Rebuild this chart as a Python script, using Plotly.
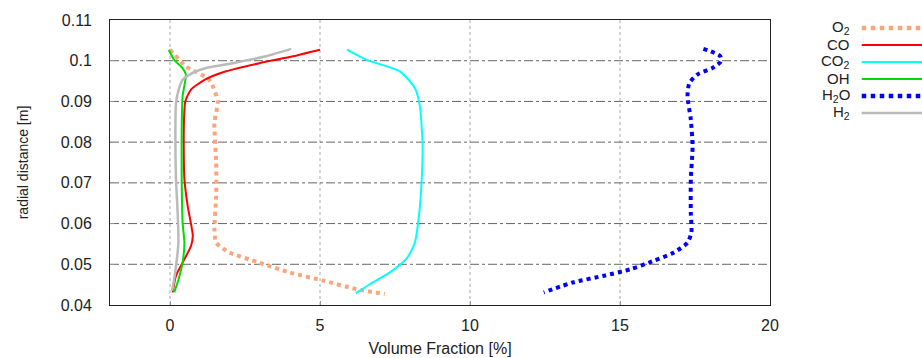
import plotly.graph_objects as go

# ---- data (volume fraction [%], radial distance [m]) ----
o2_x = [0.0, 0.53, 1.31, 1.59, 1.48, 1.54, 1.54, 1.48, 1.54, 1.98, 2.98, 3.99, 5.1, 6.21, 7.16]
o2_y = [0.1027, 0.0986, 0.0953, 0.0900, 0.0847, 0.0750, 0.0668, 0.0586, 0.0553, 0.0529, 0.0504, 0.0480, 0.0460, 0.0439, 0.0427]

co_x = [5.0, 4.1, 2.98, 1.87, 1.15, 0.70, 0.51, 0.46, 0.48, 0.59, 0.76, 0.70, 0.42, 0.20, 0.09]
co_y = [0.1027, 0.1011, 0.0994, 0.0974, 0.0953, 0.0929, 0.0900, 0.0831, 0.0709, 0.0643, 0.0570, 0.0545, 0.0504, 0.0472, 0.0431]

co2_x = [5.9, 6.55, 7.66, 8.16, 8.33, 8.42, 8.39, 8.31, 8.16, 7.88, 7.33, 6.66, 6.19]
co2_y = [0.1027, 0.1002, 0.0974, 0.0933, 0.0888, 0.0790, 0.0709, 0.0627, 0.0553, 0.0513, 0.0480, 0.0451, 0.0429]

oh_x = [-0.04, 0.14, 0.42, 0.53, 0.42, 0.39, 0.39, 0.42, 0.48, 0.42, 0.29, 0.14]
oh_y = [0.1027, 0.1002, 0.0982, 0.0966, 0.0913, 0.0831, 0.0709, 0.0602, 0.0553, 0.0504, 0.0464, 0.0431]

h2o_x = [17.78, 18.03, 18.34, 18.36, 18.08, 17.58, 17.31, 17.25, 17.36, 17.42, 17.36, 17.36, 17.38, 17.25, 16.8, 16.14, 15.36, 14.47, 13.46, 12.46]
h2o_y = [0.1029, 0.1023, 0.1011, 0.0998, 0.0982, 0.0966, 0.0945, 0.0913, 0.0856, 0.0790, 0.0709, 0.0627, 0.0578, 0.0553, 0.0529, 0.0509, 0.0488, 0.0472, 0.0456, 0.0431]

h2_x = [4.04, 3.2, 2.09, 1.2, 0.65, 0.42, 0.29, 0.20, 0.18, 0.20, 0.26, 0.28, 0.23, 0.14, 0.07]
h2_y = [0.1029, 0.1011, 0.0994, 0.0982, 0.0966, 0.0953, 0.0929, 0.0896, 0.0831, 0.0709, 0.0619, 0.0553, 0.0513, 0.0464, 0.0435]

x_ticks = [0, 5, 10, 15, 20]
y_ticks = [0.04, 0.05, 0.06, 0.07, 0.08, 0.09, 0.1, 0.11]
y_ticktext = ["0.04", "0.05", "0.06", "0.07", "0.08", "0.09", "0.1", "0.11"]

series = [
    ("O<sub>2</sub>", o2_x, o2_y, "#fca47c", 4, "dot"),
    ("CO", co_x, co_y, "#ff0000", 2, "solid"),
    ("CO<sub>2</sub>", co2_x, co2_y, "#00ffff", 2, "solid"),
    ("OH", oh_x, oh_y, "#00dd00", 2, "solid"),
    ("H<sub>2</sub>O", h2o_x, h2o_y, "#0000ff", 4, "dot"),
    ("H<sub>2</sub>", h2_x, h2_y, "#bbbbbb", 2.5, "solid"),
]

fig = go.Figure()
for name, xs, ys, col, w, dash in series:
    fig.add_trace(go.Scatter(x=xs, y=ys, mode="lines", name=name,
                             line=dict(color=col, width=w, dash=dash, shape="spline", smoothing=0.6),
                             showlegend=False))

# vertical dotted grid lines
for xv in x_ticks[:-1]:
    fig.add_shape(type="line", xref="x", yref="paper", x0=xv, x1=xv, y0=0, y1=1,
                  line=dict(color="#aaaaaa", width=1, dash="dot"), layer="below")
# horizontal dash-dot grid lines
for yv in y_ticks[1:-1]:
    fig.add_shape(type="line", xref="paper", yref="y", x0=0, x1=1, y0=yv, y1=yv,
                  line=dict(color="#666666", width=1, dash="dashdot"), layer="below")

# manual legend (labels right-aligned, sample line at right)
for i, (name, xs, ys, col, w, dash) in enumerate(series):
    yy = 0.972 - i * 0.0596
    fig.add_annotation(xref="paper", yref="paper", x=1.124, y=yy, text=name,
                       showarrow=False, xanchor="right", yanchor="middle",
                       font=dict(family="Liberation Sans, Arial", size=15, color="#222222"))
    fig.add_shape(type="line", xref="paper", yref="paper", x0=1.139, x1=1.25, y0=yy, y1=yy,
                  line=dict(color=col, width=w if dash == "solid" else 4.5, dash=dash))

fig.update_layout(
    width=922, height=358,
    margin=dict(l=110, r=152, t=20, b=53),
    paper_bgcolor="white", plot_bgcolor="white",
    font=dict(family="Liberation Sans, Arial", size=16, color="#222222"),
    xaxis=dict(range=[-2, 20], tickvals=x_ticks, showgrid=False, zeroline=False,
               showline=True, linecolor="#222222", linewidth=1, mirror=True, automargin=False,
               ticks="inside", ticklen=4, tickcolor="#999999", ticklabelstandoff=6,
               title=dict(text="Volume Fraction [%]", font=dict(size=16), standoff=9)),
    yaxis=dict(range=[0.04, 0.11], tickvals=y_ticks, ticktext=y_ticktext, showgrid=False,
               zeroline=False, showline=True, linecolor="#222222", linewidth=1, mirror=True,
               automargin=False,
               ticks="inside", ticklen=4, tickcolor="#999999", ticklabelstandoff=14,
               title=dict(text="radial distance [m]", font=dict(size=14), standoff=28)),
)

fig.write_html("out.html")
